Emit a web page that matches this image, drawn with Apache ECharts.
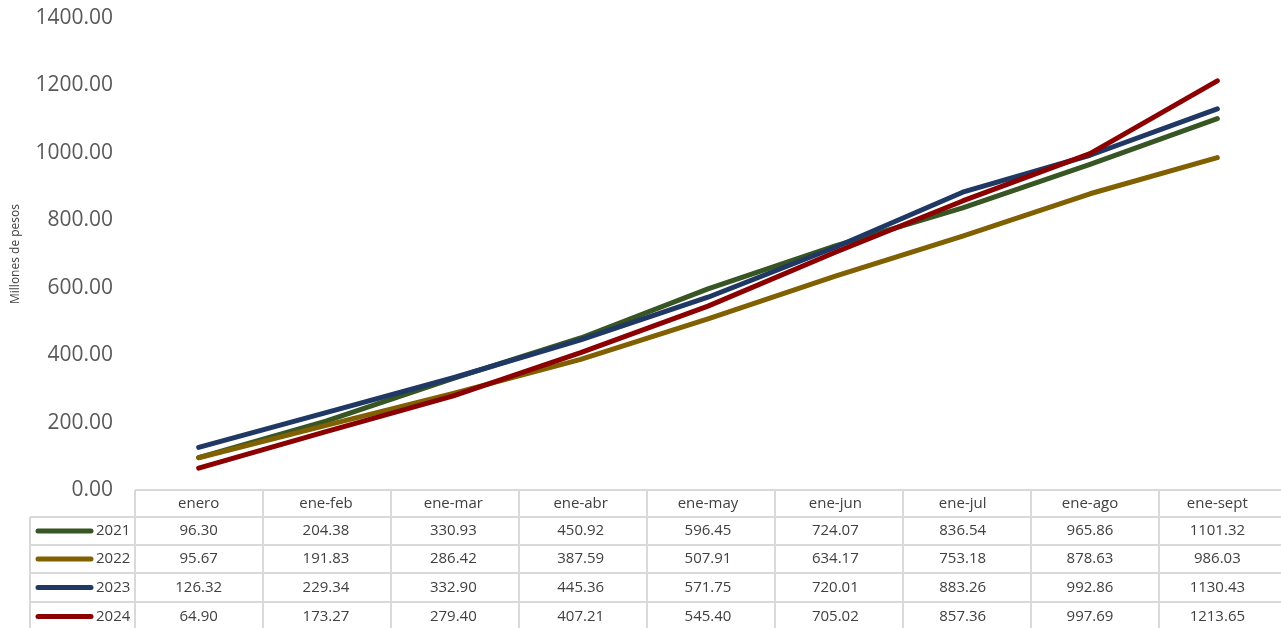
<!DOCTYPE html>
<html>
<head>
<meta charset="utf-8">
<script src="https://cdn.jsdelivr.net/npm/echarts@6/dist/echarts.min.js"></script>
<style>
  html, body { margin: 0; padding: 0; background: #fff; }
  #chart { width: 1281px; height: 628px; }
</style>
</head>
<body>
<div id="chart"></div>
<script>
// categorias (periodos acumulados)
var categories = ["enero", "ene-feb", "ene-mar", "ene-abr", "ene-may", "ene-jun", "ene-jul", "ene-ago", "ene-sept"];
var years = ["2021", "2022", "2023", "2024"];
var values2021 = [96.30, 204.38, 330.93, 450.92, 596.45, 724.07, 836.54, 965.86, 1101.32];
var values2022 = [95.67, 191.83, 286.42, 387.59, 507.91, 634.17, 753.18, 878.63, 986.03];
var values2023 = [126.32, 229.34, 332.90, 445.36, 571.75, 720.01, 883.26, 992.86, 1130.43];
var values2024 = [64.90, 173.27, 279.40, 407.21, 545.40, 705.02, 857.36, 997.69, 1213.65];
var yTicks = [0, 200, 400, 600, 800, 1000, 1200, 1400];

var colorList = ["#375623", "#806000", "#203864", "#8B0000"];
var allValues = [values2021, values2022, values2023, values2024];

var font = "'Open Sans', 'Noto Sans', sans-serif";
var gridLeft = 135, gridTop = 18, gridBottomY = 490, colW = 128;
var rowH = [27, 28, 28, 29, 29];
var borderColor = "#d9d9d9";

var seriesData = [];
for (var i = 0; i < years.length; i++) {
  seriesData.push({
    name: years[i],
    type: "line",
    symbol: "none",
    data: allValues[i],
    lineStyle: { color: colorList[i], width: 5, cap: "round", join: "round" },
    itemStyle: { color: colorList[i] },
    z: 2 + (i === 2 ? 1 : 0) + (i === 3 ? 2 : 0)
  });
}

var myChart = echarts.init(document.getElementById("chart"));
myChart.setOption({
  animation: false,
  grid: { left: gridLeft, top: gridTop, width: colW * categories.length, height: gridBottomY - gridTop },
  xAxis: {
    type: "category",
    data: categories,
    boundaryGap: true,
    axisLine: { show: false },
    axisTick: { show: false },
    axisLabel: { show: false }
  },
  yAxis: {
    type: "value",
    min: yTicks[0],
    max: yTicks[yTicks.length - 1],
    interval: 200,
    name: "Millones de pesos",
    nameLocation: "middle",
    nameGap: 113,
    nameTextStyle: { fontSize: 12, color: "#404040", fontFamily: font },
    axisLine: { show: false },
    axisTick: { show: false },
    splitLine: { show: false },
    axisLabel: {
      fontSize: 21,
      color: "#595959",
      fontFamily: font,
      margin: 22,
      formatter: function (v) { return v.toFixed(2); }
    }
  },
  series: seriesData
});

// tabla de datos debajo del grafico
var g = [];
var tableRight = gridLeft + colW * categories.length;
var legendLeft = 30;
var yPos = [gridBottomY];
for (var r = 0; r < rowH.length; r++) yPos.push(yPos[r] + rowH[r]);

// lineas horizontales
for (var r = 0; r < yPos.length; r++) {
  g.push({
    type: "line",
    shape: { x1: r === 0 ? gridLeft : legendLeft, y1: yPos[r], x2: tableRight, y2: yPos[r] },
    style: { stroke: borderColor, lineWidth: 2 }
  });
}
// lineas verticales
for (var c = 0; c <= categories.length; c++) {
  var x = gridLeft + c * colW;
  g.push({
    type: "line",
    shape: { x1: x, y1: yPos[0], x2: x, y2: yPos[yPos.length - 1] },
    style: { stroke: borderColor, lineWidth: 2 }
  });
}
g.push({
  type: "line",
  shape: { x1: legendLeft, y1: yPos[1], x2: legendLeft, y2: yPos[yPos.length - 1] },
  style: { stroke: borderColor, lineWidth: 2 }
});

// encabezados
for (var c = 0; c < categories.length; c++) {
  var cx = myChart.convertToPixel({ xAxisIndex: 0 }, categories[c]);
  g.push({
    type: "text",
    x: cx, y: (yPos[0] + yPos[1]) / 2,
    style: { text: categories[c], fill: "#404040", fontSize: 15, fontFamily: font, align: "center", verticalAlign: "middle" }
  });
}
// filas
for (var i = 0; i < years.length; i++) {
  var cy = (yPos[i + 1] + yPos[i + 2]) / 2;
  g.push({
    type: "line",
    shape: { x1: 38, y1: cy, x2: 91, y2: cy },
    style: { stroke: colorList[i], lineWidth: 5, lineCap: "round" }
  });
  g.push({
    type: "text",
    x: 96, y: cy,
    style: { text: years[i], fill: "#404040", fontSize: 15, fontFamily: font, align: "left", verticalAlign: "middle" }
  });
  for (var c = 0; c < categories.length; c++) {
    var cx = myChart.convertToPixel({ xAxisIndex: 0 }, categories[c]);
    g.push({
      type: "text",
      x: cx, y: cy,
      style: { text: allValues[i][c].toFixed(2), fill: "#404040", fontSize: 15, fontFamily: font, align: "center", verticalAlign: "middle" }
    });
  }
}
myChart.setOption({ graphic: g });

window.addEventListener("resize", function () {
  myChart.resize();
});
</script>
</body>
</html>
